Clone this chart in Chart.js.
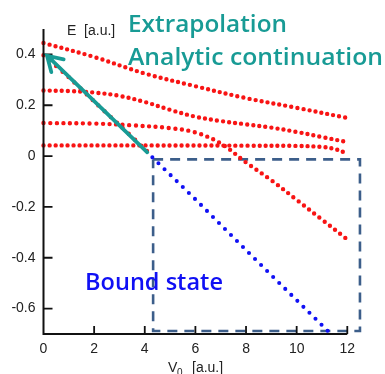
<!DOCTYPE html>
<html>
<head>
<meta charset="utf-8">
<script src="https://cdn.jsdelivr.net/npm/chart.js@4.4.1/dist/chart.umd.min.js"></script>
<style>
  html, body { margin: 0; padding: 0; background: #fff; }
  #wrap { width: 385px; height: 374px; }
</style>
</head>
<body>
<div id="wrap"><canvas id="chart" width="385" height="374"></canvas></div>
<script>
// energy levels E(V0)
const v1 = [0, 2, 4, 6, 8, 10, 12];
const e1 = [0.445, 0.39, 0.325, 0.275, 0.228, 0.19, 0.15];

const v2 = [0, 1, 2, 3, 4, 5, 6, 7, 8, 9, 10, 11, 12];
const e2 = [0.258, 0.256, 0.25, 0.237, 0.213, 0.182, 0.155, 0.138, 0.125, 0.112, 0.095, 0.075, 0.055];

const v3 = [0, 2, 3.5, 5, 6, 7, 8, 9, 10, 11, 12];
const e3 = [0.13, 0.128, 0.121, 0.11, 0.093, 0.05, -0.025, -0.095, -0.172, -0.25, -0.328];

const v4 = [0, 4, 8, 10, 11, 11.5, 12];
const e4 = [0.042, 0.042, 0.041, 0.04, 0.036, 0.028, 0.01];

// resonance -> bound state
const vRes = [0, 1, 2, 3, 4, 4.3];
const eRes = [0.397, 0.31, 0.215, 0.122, 0.028, 0];
const vBound = [4.3, 6, 8, 10, 11.25];
const eBound = [-0.005, -0.17, -0.37, -0.567, -0.69];

// dashed box around the bound state region
const boxV = [4.33, 12.5, 12.5, 4.33, 4.33];
const boxE = [-0.013, -0.013, -0.688, -0.688, -0.013];

// arrow (tail -> tip)
const arrowFrom = [4.1, 0.015];
const arrowTo = [0.14, 0.395];

const xTicks = [0, 2, 4, 6, 8, 10, 12];
const yTicks = [-0.6, -0.4, -0.2, 0, 0.2, 0.4];

const RED = "#f81414";
const BLUE = "#1010f4";
const TEAL = "#189b95";
const BOXC = "#3c5e8a";

function dotted(v, e, color, gap, width, tension) {
    return {
        data: v.map((x, i) => ({ x: x, y: e[i] })),
        showLine: true,
        borderColor: color,
        borderWidth: width,
        borderDash: [0, gap],
        borderCapStyle: "round",
        pointRadius: 0,
        tension: tension,
        clip: false,
    };
}

function fitText(ctx, text, x, y, w) {
    const m = ctx.measureText(text).width;
    ctx.save();
    ctx.translate(x, y);
    ctx.scale(w / m, 1);
    ctx.fillText(text, 0, 0);
    ctx.restore();
}

const overlay = {
    id: "overlay",
    afterDatasetsDraw(chart) {
        const ctx = chart.ctx;
        const xs = chart.scales.x, ys = chart.scales.y;
        const a = chart.chartArea;

        // axes with inward ticks
        ctx.save();
        ctx.strokeStyle = "#111";
        ctx.lineWidth = 2;
        ctx.beginPath();
        ctx.moveTo(a.left, a.top);
        ctx.lineTo(a.left, a.bottom);
        ctx.lineTo(a.right, a.bottom);
        ctx.stroke();
        ctx.lineWidth = 1.8;
        ctx.beginPath();
        yTicks.forEach(t => {
            const py = ys.getPixelForValue(t);
            ctx.moveTo(a.left, py);
            ctx.lineTo(a.left + 9, py);
        });
        xTicks.slice(1).forEach(t => {
            const px = xs.getPixelForValue(t);
            ctx.moveTo(px, a.bottom);
            ctx.lineTo(px, a.bottom - 8);
        });
        ctx.stroke();
        ctx.restore();

        // teal arrow
        const x0 = xs.getPixelForValue(arrowFrom[0]), y0 = ys.getPixelForValue(arrowFrom[1]);
        const x1 = xs.getPixelForValue(arrowTo[0]), y1 = ys.getPixelForValue(arrowTo[1]);
        const ang = Math.atan2(y1 - y0, x1 - x0);
        ctx.save();
        ctx.strokeStyle = TEAL;
        ctx.lineWidth = 3.8;
        ctx.lineCap = "round";
        ctx.beginPath();
        ctx.moveTo(x0, y0);
        ctx.lineTo(x1, y1);
        ctx.moveTo(x1 - 17 * Math.cos(ang - 0.55), y1 - 17 * Math.sin(ang - 0.55));
        ctx.lineTo(x1, y1);
        ctx.lineTo(x1 - 17 * Math.cos(ang + 0.55), y1 - 17 * Math.sin(ang + 0.55));
        ctx.stroke();
        ctx.restore();

        // annotations
        ctx.save();
        ctx.textBaseline = "alphabetic";
        ctx.textAlign = "left";
        ctx.font = "600 24px 'Open Sans'";
        ctx.fillStyle = TEAL;
        fitText(ctx, "Extrapolation", 128, 32, 159);
        fitText(ctx, "Analytic continuation", 128, 65, 255);
        ctx.fillStyle = BLUE;
        fitText(ctx, "Bound state", 85, 290, 138);

        // axis titles
        ctx.fillStyle = "#222";
        ctx.font = "14px 'Liberation Sans'";
        ctx.fillText("E  [a.u.]", 67, 35);
        ctx.fillText("V", 168, 372);
        ctx.fillText("[a.u.]", 192, 372);
        ctx.font = "10px 'Liberation Sans'";
        ctx.fillText("0", 177, 376);
        ctx.restore();
    },
};

const tickFont = { family: "'Liberation Sans', Arial, sans-serif", size: 14 };

new Chart(document.getElementById("chart").getContext("2d"), {
    type: "scatter",
    data: {
        datasets: [
            dotted(vRes, eRes, RED, 8.3, 4.4, 0.3),
            dotted(vBound, eBound, BLUE, 8.5, 4.1, 0),
            dotted(v1, e1, RED, 6.1, 4.4, 0.35),
            dotted(v2, e2, RED, 6.1, 4.4, 0.35),
            dotted(v3, e3, RED, 6.6, 4.4, 0.35),
            dotted(v4, e4, RED, 6.0, 4.4, 0.35),
            {
                data: boxV.map((x, i) => ({ x: x, y: boxE[i] })),
                showLine: true,
                borderColor: BOXC,
                borderWidth: 2.6,
                borderDash: [10, 7],
                pointRadius: 0,
                tension: 0,
                clip: false,
            },
        ],
    },
    options: {
        responsive: false,
        animation: false,
        layout: { padding: { top: 29, right: 37.7, bottom: 0, left: 0 } },
        plugins: { legend: { display: false }, tooltip: { enabled: false } },
        scales: {
            x: {
                type: "linear",
                min: 0,
                max: 12,
                grid: { display: false, drawTicks: false },
                border: { display: false },
                ticks: { color: "#222", font: tickFont, padding: 7, maxRotation: 0 },
                afterBuildTicks: s => { s.ticks = xTicks.map(v => ({ value: v })); },
                afterFit: s => { s.height = 40; },
            },
            y: {
                type: "linear",
                min: -0.7,
                max: 0.5,
                grid: { display: false, drawTicks: false },
                border: { display: false },
                ticks: { color: "#222", font: tickFont, padding: 8, callback: v => String(v) },
                afterBuildTicks: s => { s.ticks = yTicks.map(v => ({ value: v })); },
                afterFit: s => { s.width = 43.5; },
            },
        },
    },
    plugins: [overlay],
});
</script>
</body>
</html>
